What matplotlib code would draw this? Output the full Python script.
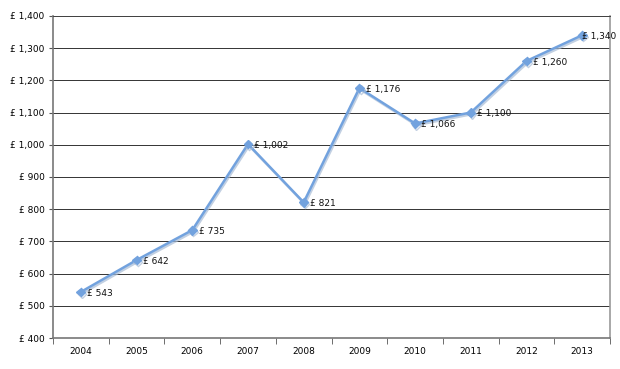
import matplotlib
matplotlib.use("Agg")
import matplotlib.pyplot as plt
import matplotlib.patheffects as pe
import numpy as np

years = ["2004", "2005", "2006", "2007", "2008", "2009", "2010", "2011", "2012", "2013"]
values = [543, 642, 735, 1002, 821, 1176, 1066, 1100, 1260, 1340]
yticks = list(range(400, 1401, 100))

plt.rcParams['font.family'] = ['DejaVu Sans']

fig = plt.figure(figsize=(6.2, 3.69), dpi=100)
ax = fig.add_axes([0.0855, 0.084, 0.8985, 0.873])

x = np.arange(len(years))
line_color = '#72a2de'
ax.plot(x, values, color=line_color, lw=1.8, marker='D', markersize=4.5,
        markerfacecolor=line_color, markeredgecolor=line_color, zorder=3,
        path_effects=[pe.SimpleLineShadow(offset=(0.8, -1.2), shadow_color='#a8bcd6', alpha=0.7),
                      pe.Normal()])

def fmt(v):
    return "£ {:,}".format(v)

for i, (xi, v) in enumerate(zip(x, values)):
    dx = 4.5 if i < len(values) - 1 else -0.5
    ax.annotate(fmt(v), (xi, v), xytext=(dx, -1), textcoords='offset points',
                fontsize=6.5, va='center', ha='left', color='#111111', zorder=4,
                annotation_clip=False)

ax.set_xlim(-0.5, len(years) - 0.5)
ax.set_ylim(400, 1400)
ax.set_yticks(yticks)
ax.set_yticklabels([fmt(v) for v in yticks], fontsize=6.5)
ax.set_xticks(x)
ax.set_xticklabels(years, fontsize=6.5)
ax.set_xticks(np.arange(-0.5, len(years)), minor=True)
ax.tick_params(axis='x', which='major', length=0, pad=6.5)
ax.tick_params(axis='x', which='minor', length=4, color='#555555', direction='out')
ax.tick_params(axis='y', which='major', length=3, color='#555555', direction='out', pad=3)

ax.grid(axis='y', color='#333333', lw=0.7, zorder=0)
for s in ['left', 'bottom']:
    ax.spines[s].set_color('#777777')
    ax.spines[s].set_linewidth(1.2)
ax.spines['right'].set_color('#999999')
ax.spines['right'].set_linewidth(1.2)
ax.spines['top'].set_color('#444444')
ax.spines['top'].set_linewidth(0.7)

fig.savefig("out.png", dpi=100)
